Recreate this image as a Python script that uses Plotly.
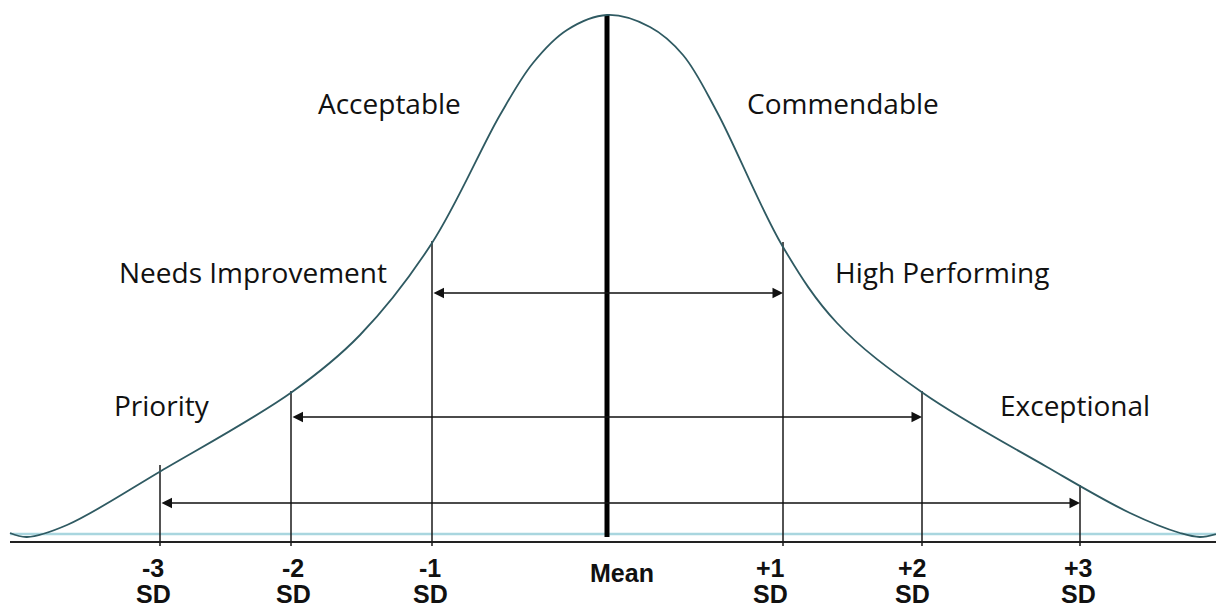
import plotly.graph_objects as go

# bell curve (x in px across, height above the baseline)
curve_x = [10, 27, 67, 161, 292, 360, 432, 500, 533, 567, 607,
           650, 683, 717, 783, 837, 923, 1047, 1130, 1180, 1200, 1223]
curve_h = [9, 5, 17, 71, 150, 207, 299, 427, 479, 512, 527,
           515, 487, 430, 295, 219, 149, 75, 29, 9, 5, 10]

# standard deviation markers
sd_names = ["-3", "-2", "-1", "Mean", "+1", "+2", "+3"]
sd_x = [160, 291, 432, 607, 783, 922, 1080]
sd_top = [77, 151, 301, 527, 300, 151, 57]
sd_label_x = [153, 293, 430, 622, 770, 912, 1078]

# double arrows between matching SD lines
arrow_left = [432, 291, 160]
arrow_right = [783, 922, 1080]
arrow_h = [249, 125, 39]

# band labels
band_names = ["Acceptable", "Commendable", "Needs Improvement", "High Performing", "Priority", "Exceptional"]
band_x = [389, 843, 253, 942, 162, 1075]
band_h = [439, 439, 270, 270, 137, 137]

fig = go.Figure()

# light blue reference line and black axis
fig.add_trace(go.Scatter(x=[10, 1224], y=[8, 8], mode="lines",
                         line=dict(color="#a9d6df", width=2.5), hoverinfo="skip"))
fig.add_trace(go.Scatter(x=[10, 1224], y=[0, 0], mode="lines",
                         line=dict(color="#222222", width=2), hoverinfo="skip"))

# vertical SD lines
for name, x, top in zip(sd_names, sd_x, sd_top):
    if name == "Mean":
        fig.add_trace(go.Scatter(x=[x, x], y=[5, top], mode="lines",
                                 line=dict(color="black", width=5), hoverinfo="skip"))
    else:
        fig.add_trace(go.Scatter(x=[x, x], y=[-4, top], mode="lines",
                                 line=dict(color="#1a1a1a", width=1.5), hoverinfo="skip"))

# the curve
fig.add_trace(go.Scatter(x=curve_x, y=curve_h, mode="lines", line_shape="spline",
                         line=dict(color="#2f5a62", width=1.8, smoothing=1), hoverinfo="skip"))

# arrows
for xl, xr, h in zip(arrow_left, arrow_right, arrow_h):
    fig.add_annotation(x=xr, y=h, ax=xl, ay=h, xref="x", yref="y", axref="x", ayref="y",
                       text="", showarrow=True, arrowhead=2, arrowside="end+start",
                       arrowsize=1.4, arrowwidth=1.5, arrowcolor="#111111", standoff=0, startstandoff=0)

# band labels
for name, x, h in zip(band_names, band_x, band_h):
    fig.add_annotation(x=x, y=h, text=name, showarrow=False,
                       font=dict(family="Open Sans", size=28, color="#111111"))

# tick labels under the axis
tick_font = dict(family="Liberation Sans, Arial", size=25, color="#111111")
for name, x in zip(sd_names, sd_label_x):
    if name == "Mean":
        fig.add_annotation(x=x, y=-31, text="<b>Mean</b>", showarrow=False, font=tick_font)
    else:
        fig.add_annotation(x=x, y=-26, text="<b>" + name + "</b>", showarrow=False, font=tick_font)
        fig.add_annotation(x=x, y=-52, text="<b>SD</b>", showarrow=False, font=tick_font)

# the page has an 8px body margin, so the figure is sized and ranged to land on the window pixels
fig.update_layout(
    width=1216, height=601,
    margin=dict(l=0, r=0, t=0, b=0),
    paper_bgcolor="white", plot_bgcolor="white",
    showlegend=False,
    xaxis=dict(range=[8, 1224], visible=False, fixedrange=True),
    yaxis=dict(range=[-67, 534], visible=False, fixedrange=True),
)

fig.write_html("out.html")
